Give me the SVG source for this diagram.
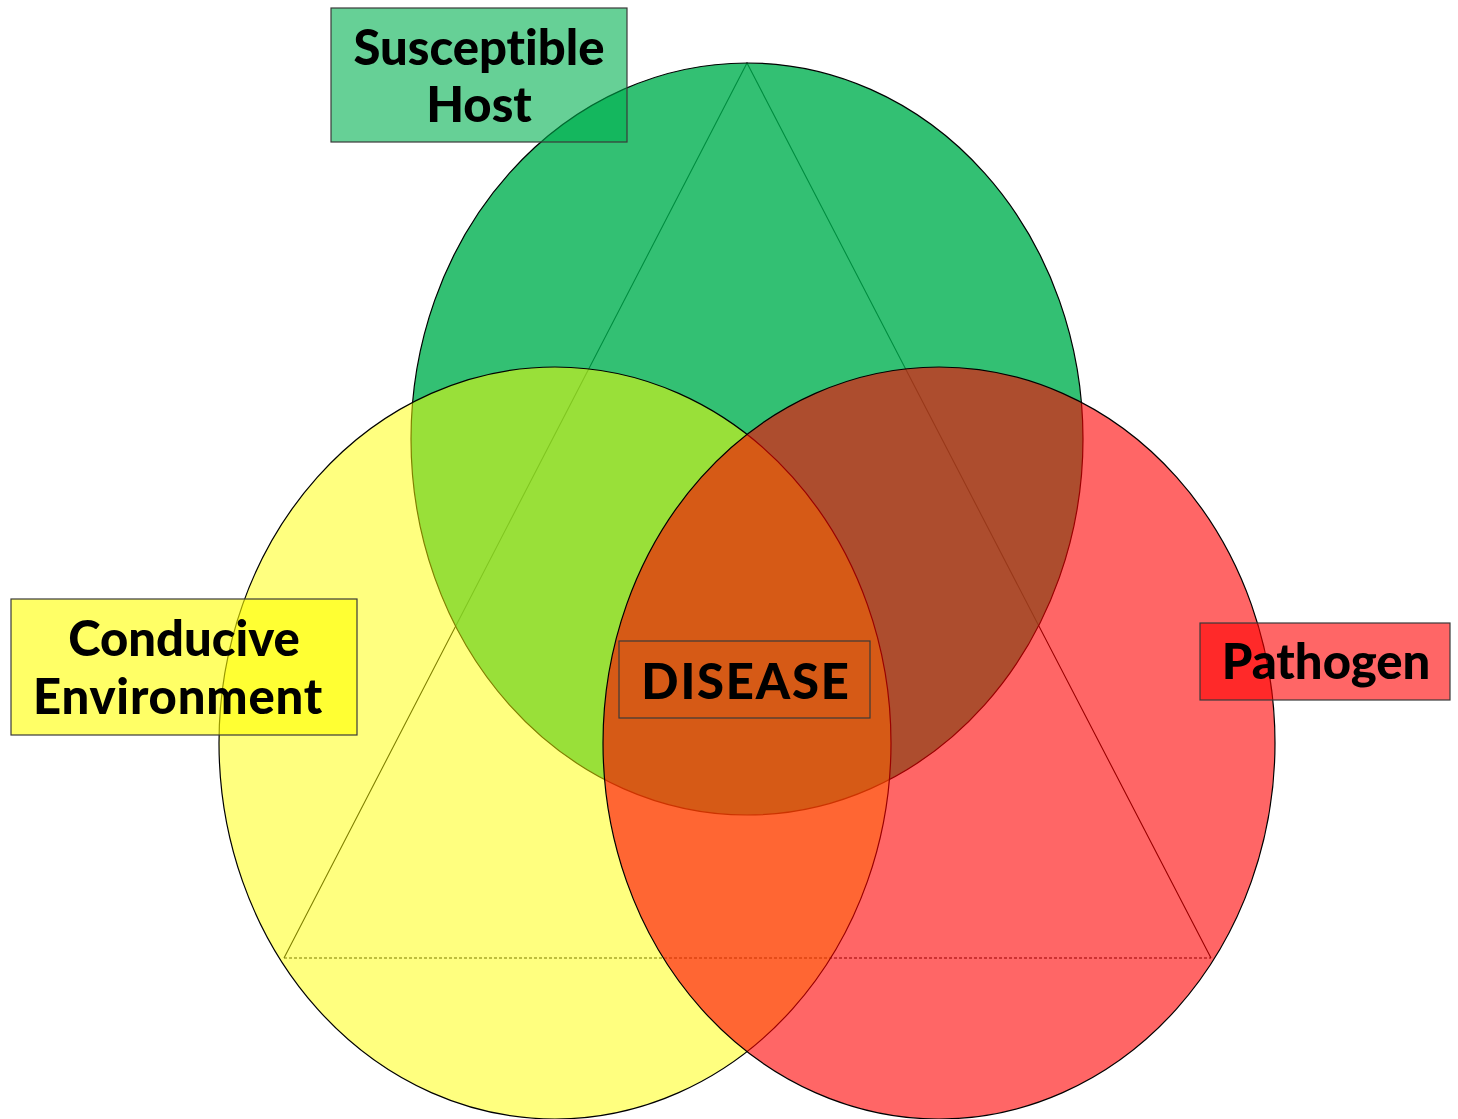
<svg xmlns="http://www.w3.org/2000/svg" width="1458" height="1119" viewBox="0 0 1458 1119">
  <style>
    .ring { stroke: #000; stroke-width: 1.2; }
    .label { font-family: Lato, "Open Sans", "Liberation Sans", sans-serif; font-weight: 900; font-size: 49px; fill: #000; text-anchor: middle; font-variant-ligatures: none; }
    .box { stroke: #3a3a3a; stroke-width: 1.2; }
    .tri { fill: none; stroke: #000; stroke-width: 1.1; }
  </style>
  <rect width="1458" height="1119" fill="#fff"/>

  <!-- disease triangle, drawn beneath the translucent circles -->
  <g id="connectors">
    <path class="tri" d="M284,958 L747,63 L1211,958"/>
    <path class="tri" d="M284,958 L1211,958" stroke-dasharray="3,2"/>
  </g>

  <g id="host-circle">
    <ellipse class="ring" cx="747" cy="439" rx="336" ry="376" fill="#00B050" fill-opacity="0.8"/>
  </g>
  <g id="environment-circle">
    <ellipse class="ring" cx="555" cy="743" rx="336" ry="376" fill="#FFFF00" fill-opacity="0.5"/>
  </g>
  <g id="pathogen-circle">
    <ellipse class="ring" cx="939" cy="743" rx="336" ry="376" fill="#FF0000" fill-opacity="0.6"/>
  </g>

  <g id="host-label">
    <rect class="box" x="331" y="8" width="296" height="134" fill="#00B050" fill-opacity="0.6"/>
    <text class="label" x="479" y="65">Susceptible</text>
    <text class="label" x="479" y="122">Host</text>
  </g>

  <g id="environment-label">
    <rect class="box" x="11" y="599" width="346" height="136" fill="#FFFF00" fill-opacity="0.6"/>
    <text class="label" x="184" y="656">Conducive</text>
    <text class="label" x="178" y="714" letter-spacing="0.8">Environment</text>
  </g>

  <g id="pathogen-label">
    <rect class="box" x="1200" y="623" width="250" height="77" fill="#FF0000" fill-opacity="0.6"/>
    <text class="label" x="1326" y="679">Pathogen</text>
  </g>

  <g id="disease-label">
    <rect class="box" x="619" y="641" width="251" height="77" fill="none" stroke="#3a1a00"/>
    <text class="label" x="746" y="699" letter-spacing="1.8">DISEASE</text>
  </g>
</svg>
